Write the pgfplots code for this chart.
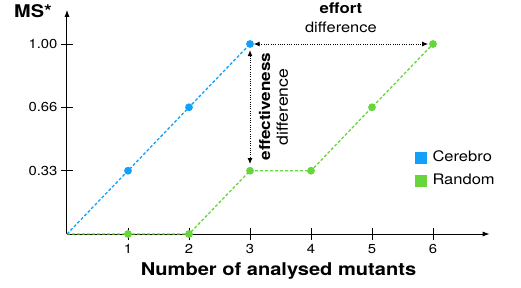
\documentclass[border=0pt]{standalone}
\usepackage{pgfplots}
\pgfplotsset{compat=1.18}
\usepackage{fontspec}
\setmainfont{TeX Gyre Heros}[FakeStretch=1.14]
\usetikzlibrary{arrows.meta}
\definecolor{cblue}{RGB}{18,160,250}
\definecolor{cgreen}{RGB}{102,214,58}
\begin{document}
\begin{tikzpicture}
\path[use as bounding box] (-67pt,-53pt) rectangle (454pt,234pt);
\begin{axis}[
  at={(0pt,0pt)}, anchor=south west,
  x=61pt, y=190pt,
  xmin=0, xmax=6.93, ymin=0, ymax=1.18,
  axis lines=left,
  axis line style={line width=1pt, -{Latex[length=7pt,width=5pt]}},
  clip=false,
  xtick={1,2,3,4,5,6},
  ytick={0.333,0.667,1.0},
  yticklabels={0.33,0.66,1.00},
  tick align=center,
  major tick length=12pt,
  tick style={line width=1pt, black},
  /pgf/number format/assume math mode=true,
  tick label style={font=\fontsize{13}{15}\selectfont},
  xticklabel style={yshift=-1pt},
  xlabel={\textbf{Number of analysed mutants}},
  xlabel style={font=\fontsize{17.6}{20}\selectfont, at={(axis cs:3.467,-0.221)}, anchor=base},
  ylabel={\textbf{MS*}},
  ylabel style={font=\fontsize{17.5}{20}\selectfont, rotate=-90, at={(axis cs:-0.557,1.137)}, anchor=base},
  legend style={draw=none, fill=none, at={(axis description cs:0.823,0.372)}, anchor=north west,
    font=\fontsize{14.5}{16}\selectfont, inner sep=0pt, row sep=9pt,
    nodes={inner sep=0pt, text height=11pt, text depth=3pt}},
  legend cell align=left,
  /tikz/every odd column/.append style={column sep=6pt},
]
\addplot[cgreen, line width=1.3pt, dash pattern=on 3pt off 2pt, mark=*, mark phase=2, mark size=3.2pt, mark options={solid, draw=none, fill=cgreen}, forget plot]
  coordinates {(0,0) (1,0) (2,0) (3,0.333) (4,0.333) (5,0.667) (6,1.0)};
\addplot[cblue, line width=1.3pt, dash pattern=on 3pt off 2pt, mark=*, mark phase=2, mark size=3.2pt, mark options={solid, draw=none, fill=cblue}, forget plot]
  coordinates {(0,0) (1,0.333) (2,0.667) (3,1.0)};
\addlegendimage{legend image code/.code={\fill[cblue] (0pt,-5.5pt) rectangle (11pt,5.5pt);}}
\addlegendentry{Cerebro}
\addlegendimage{legend image code/.code={\fill[cgreen] (0pt,-5.5pt) rectangle (11pt,5.5pt);}}
\addlegendentry{Random}
\draw[line width=1pt, dash pattern=on 1pt off 1.3pt, {Latex[length=6pt,width=5pt]}-{Latex[length=6pt,width=5pt]}]
  (axis cs:3.06,1.0) -- (axis cs:5.92,1.0);
\draw[line width=1pt, dash pattern=on 1pt off 1.3pt, {Latex[length=6pt,width=5pt]}-{Latex[length=6pt,width=5pt]}]
  (axis cs:3.0,0.968) -- (axis cs:3.0,0.368);
\node[anchor=base, font=\fontsize{14.7}{16}\selectfont\bfseries, inner sep=0pt] at (axis cs:4.49,1.158) {effort};
\node[anchor=base, font=\fontsize{14.4}{16}\selectfont, inner sep=0pt] at (axis cs:4.49,1.058) {difference};
\node[anchor=base, rotate=90, font=\fontsize{15}{16}\selectfont\bfseries, inner sep=0pt] at (axis cs:3.33,0.671) {effectiveness};
\node[anchor=base, rotate=90, font=\fontsize{15.5}{16}\selectfont, inner sep=0pt] at (axis cs:3.62,0.668) {difference};
\end{axis}
\end{tikzpicture}
\end{document}
